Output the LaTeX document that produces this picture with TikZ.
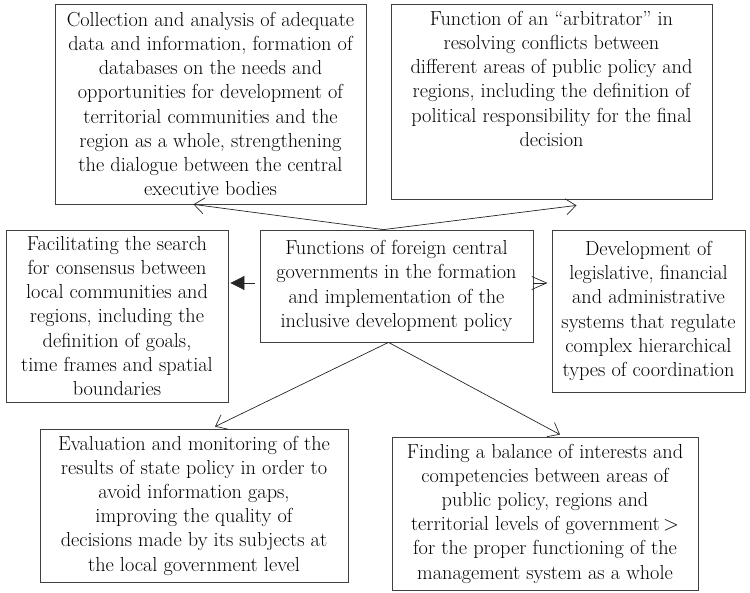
\documentclass[tikz,border=0pt]{standalone}
\usepackage{fontspec}
\usepackage{tikz}
\usetikzlibrary{arrows.meta,positioning,calc}

\begin{document}
\begin{tikzpicture}[x=1pt, y=-1pt,
    >={Straight Barb[length=10pt,width=16pt]},
    box/.style={draw=black!75, line width=0.8pt, align=center, inner sep=1pt,
        font=\fontsize{20.3}{24.2}\selectfont},
    link/.style={->, draw=black!85, line width=0.7pt}]
    \useasboundingbox (0,0) rectangle (750,593);

    % Central function block
    \node[box, minimum width=273pt, minimum height=112pt] (hub) at (396.5,286)
        {Functions of foreign central\\governments in the formation\\and implementation of the\\inclusive development policy};

    % Surrounding function blocks
    \node[box, minimum width=311pt, minimum height=200pt] (data) at (210.5,104)
        {Collection and analysis of adequate\\data and information, formation of\\databases on the needs and\\opportunities for development of\\territorial communities and the\\region as a whole, strengthening\\the dialogue between the central\\executive bodies};
    % blank lines keep this text near the top of its box
    \node[box, minimum width=321pt, minimum height=195pt] (arbiter) at (551.5,101.5)
        {Function of an ``arbitrator'' in\\resolving conflicts between\\different areas of public policy and\\regions, including the definition of\\political responsibility for the final\\decision\\[-10pt] \strut\\ \strut};
    \node[box, minimum width=222pt, minimum height=172pt] (consensus) at (117,316)
        {Facilitating the search\\for consensus between\\local communities and\\regions, including the\\definition of goals,\\time frames and spatial\\boundaries};
    \node[box, minimum width=193pt, minimum height=162pt] (systems) at (648.5,311)
        {Development of\\legislative, financial\\and administrative\\systems that regulate\\complex hierarchical\\types of coordination};
    \node[box, minimum width=308pt, minimum height=153pt] (monitor) at (194,505.5)
        {Evaluation and monitoring of the\\results of state policy in order to\\avoid information gaps,\\improving the quality of\\decisions made by its subjects at\\the local government level};
    \node[box, minimum width=306pt, minimum height=153pt] (balance) at (545,513.5)
        {Finding a balance of interests and\\competencies between areas of\\public policy, regions and\\territorial levels of government\,$>$\\for the proper functioning of the\\management system as a whole};

    % Arrows from the central block
    \draw[link] ([xshift=-13pt]hub.north) -- ([xshift=-17pt]data.south);
    \draw[link] ([xshift=-13pt]hub.north) -- ([xshift=25pt,yshift=-6pt]arbiter.south);
    \draw[link, -{Stealth[length=14pt,width=14pt,inset=0pt]}] ([xshift=-5pt,yshift=3pt]hub.west) -- ([xshift=2pt]consensus.east |- 0,283);
    \draw[link, -{Straight Barb[length=15pt,width=13pt]}] ([yshift=3pt]hub.east) -- ([xshift=-4pt,yshift=3pt]hub.east -| systems.west);
    \draw[link] ([xshift=-8pt]hub.south) -- ([xshift=21pt,yshift=2pt]monitor.north);
    \draw[link] ([xshift=-8pt]hub.south) -- ([xshift=15pt,yshift=2pt]balance.north);
\end{tikzpicture}
\end{document}
